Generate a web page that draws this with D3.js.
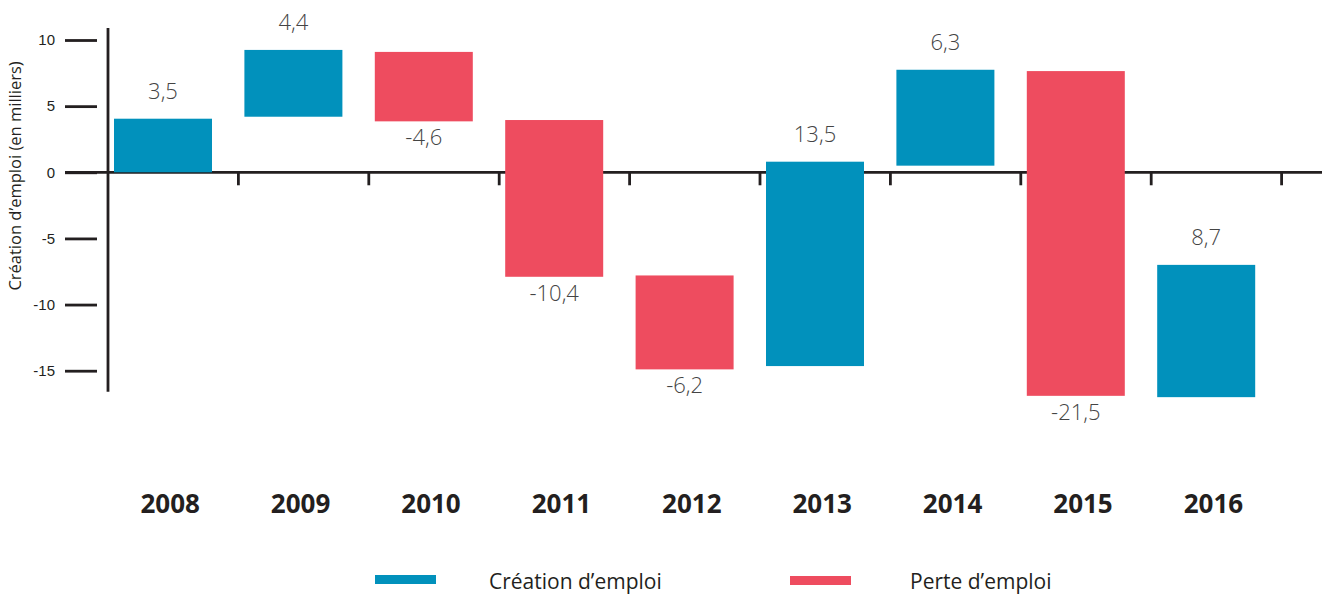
<!DOCTYPE html>
<html lang="fr">
<head>
<meta charset="utf-8">
<title>Création et perte d’emploi</title>
<script src="https://cdn.jsdelivr.net/npm/d3@7"></script>
<style>
	body { margin: 0; background: #fff; }
	svg { display: block; font-family: "Open Sans", "Noto Sans", sans-serif; }
	.axis-line { stroke: #231f20; stroke-width: 2.8; fill: none; }
	.y-axis .domain { display: none; }
	.y-axis .tick line { stroke: #231f20; stroke-width: 2.8; }
	.y-axis .tick text { font-size: 15px; fill: #231f20; }
	.value { font-size: 22px; font-weight: 300; fill: #444; }
	.year { font-size: 26px; font-weight: 700; fill: #231f20; }
	.legend text { font-size: 21px; fill: #231f20; }
</style>
</head>
<body>
<svg id="chart" width="1322" height="596"></svg>
<script>
// années
const years = ["2008", "2009", "2010", "2011", "2012", "2013", "2014", "2015", "2016"];
// variation annoncée (en milliers)
const change = [3.5, 4.4, -4.6, -10.4, -6.2, 13.5, 6.3, -21.5, 8.7];
// début et fin de chaque barre
const barFrom = [0, 4.2, 9.1, 3.95, -7.8, -14.65, 0.5, 7.65, -17.0];
const barTo = [4.05, 9.25, 3.85, -7.9, -14.9, 0.8, 7.75, -16.9, -7.0];
const yTicks = [10, 5, 0, -5, -10, -15];
const series = ["Création d’emploi", "Perte d’emploi"];
const colors = ["#0191bc", "#ee4c5f"];

const svg = d3.select("#chart");
const fmt = v => String(v).replace(".", ",");

const x = d3.scaleBand().domain(years).range([108, 1281.6]);
const y = d3.scaleLinear().domain([-15, 10]).range([370.7, 40]);
const barW = 98;

// axe vertical
svg.append("line").attr("class", "axis-line")
	.attr("x1", 108).attr("x2", 108)
	.attr("y1", y(10.9)).attr("y2", y(-16.6));

svg.append("g").attr("class", "y-axis")
	.attr("transform", "translate(97,0)")
	.call(d3.axisLeft(y).tickValues(yTicks).tickSize(32).tickPadding(10).tickFormat(fmt));

// axe horizontal
svg.append("line").attr("class", "axis-line")
	.attr("x1", 65).attr("x2", 1322)
	.attr("y1", y(0)).attr("y2", y(0));

svg.append("g").selectAll("line")
	.data(years)
	.join("line")
	.attr("class", "axis-line")
	.attr("x1", d => x(d) + x.step()).attr("x2", d => x(d) + x.step())
	.attr("y1", y(0)).attr("y2", y(0) + 13);

// barres
const rows = years.map((year, i) => ({year, value: change[i], from: barFrom[i], to: barTo[i]}));

svg.append("g").selectAll("rect")
	.data(rows)
	.join("rect")
	.attr("x", d => x(d.year) + 6)
	.attr("width", barW)
	.attr("y", d => y(Math.max(d.from, d.to)))
	.attr("height", d => Math.abs(y(d.from) - y(d.to)))
	.attr("fill", d => d.value >= 0 ? colors[0] : colors[1]);

// valeurs
svg.append("g").selectAll("text")
	.data(rows)
	.join("text")
	.attr("class", "value")
	.attr("text-anchor", "middle")
	.attr("x", d => x(d.year) + 6 + barW / 2)
	.attr("y", d => d.value >= 0 ? y(Math.max(d.from, d.to)) - 20 : y(Math.min(d.from, d.to)) + 24)
	.text(d => fmt(d.value));

// années
svg.append("g").selectAll("text")
	.data(years)
	.join("text")
	.attr("class", "year")
	.attr("text-anchor", "middle")
	.attr("x", d => x(d) + x.bandwidth() / 2 - 3)
	.attr("y", 513)
	.text(d => d);

// titre de l'axe
svg.append("text")
	.attr("transform", "translate(21,176) rotate(-90)")
	.attr("text-anchor", "middle")
	.style("font-size", "16.5px")
	.style("fill", "#231f20")
	.text("Création d’emploi (en milliers)");

// légende
const legend = svg.append("g").attr("class", "legend");
const legendPos = [[375, 489], [790, 910]];
series.forEach((s, i) => {
	legend.append("rect")
		.attr("x", legendPos[i][0]).attr("y", 575 + i)
		.attr("width", 61).attr("height", 9)
		.attr("fill", colors[i]);
	legend.append("text")
		.attr("x", legendPos[i][1]).attr("y", 589)
		.text(s);
});
</script>
</body>
</html>
